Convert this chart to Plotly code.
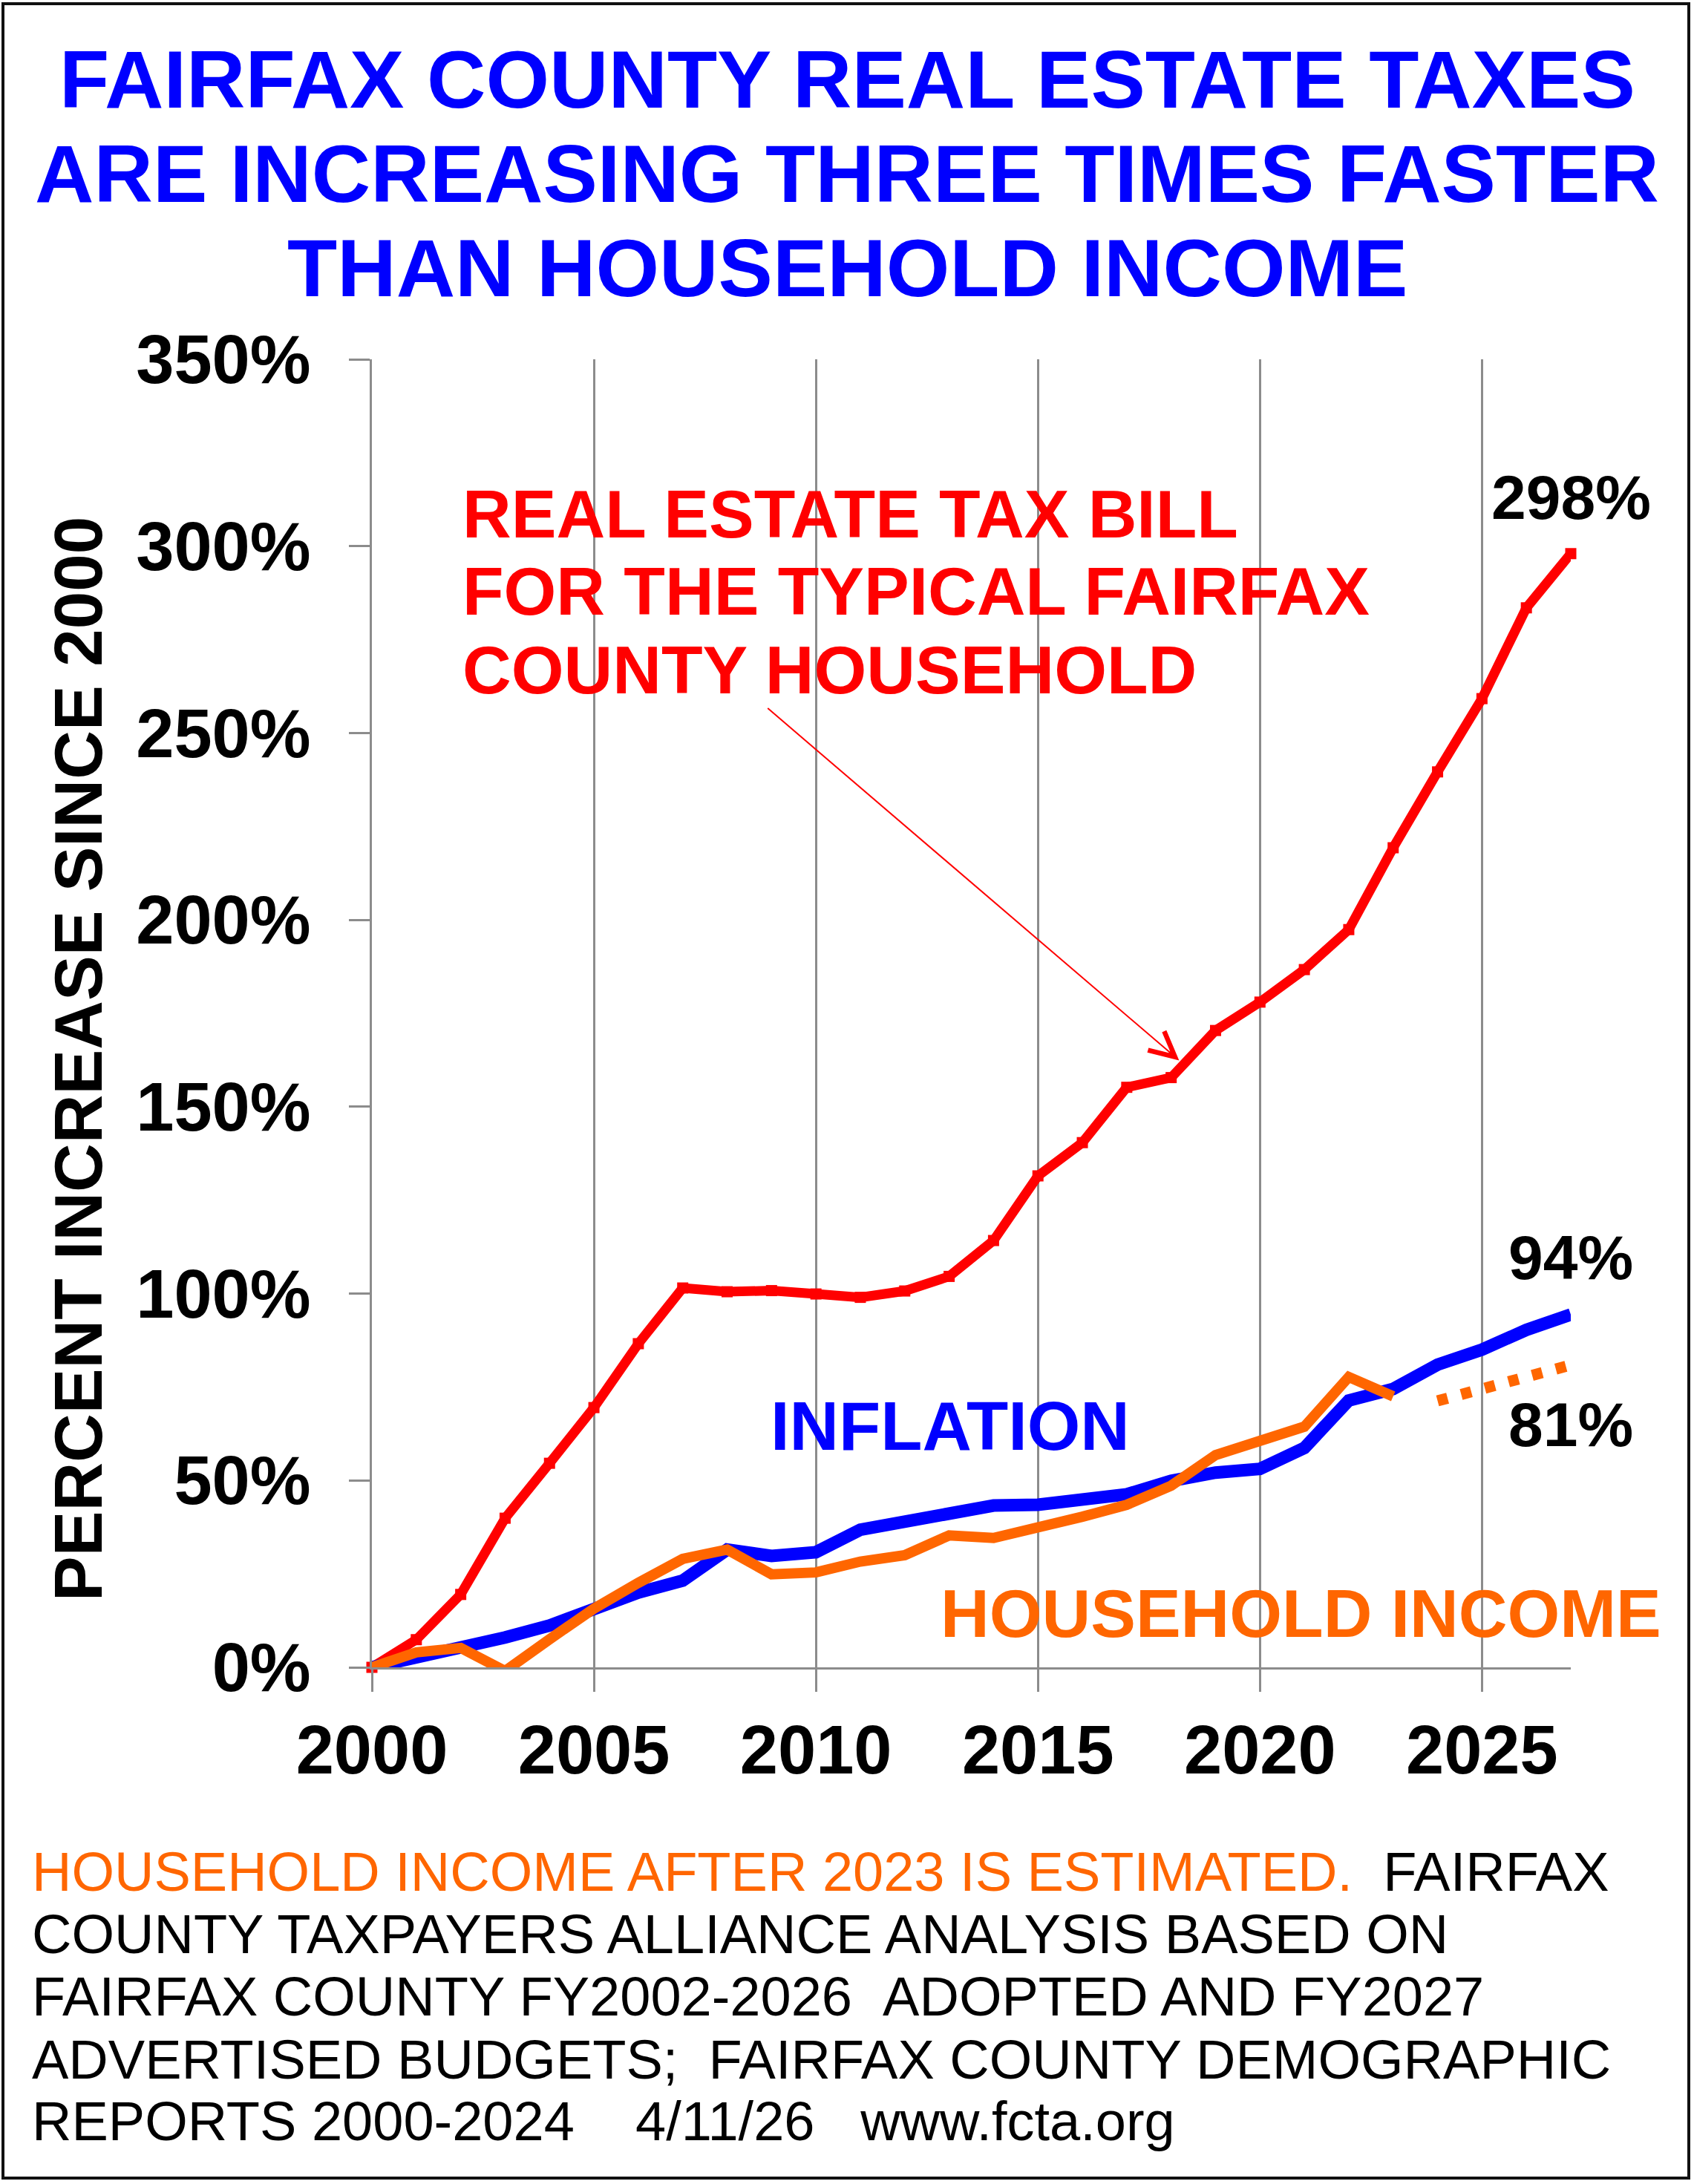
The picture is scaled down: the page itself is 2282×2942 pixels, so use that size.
import plotly.graph_objects as go

# ---------------- data ----------------
years = list(range(2000, 2028))
tax_bill = [0, 7.4, 19.5, 39.9, 54.6, 69.5, 86.6, 101.5, 100.5, 100.8, 99.9, 99.0,
            100.7, 104.6, 114.2, 131.5, 140.4, 155.2, 157.8, 170.4, 178.0, 186.7,
            197.4, 219.3, 239.6, 259.2, 283.5, 298.0]
inflation = [0, 2.4, 4.8, 8.0, 11.2, 15.9, 20.0, 23.2, 31.5, 29.8, 30.8, 36.8,
             38.8, 41.0, 43.3, 43.5, 45.1, 46.3, 49.9, 52.1, 53.1, 58.7,
             71.4, 74.5, 81.0, 85.0, 90.3, 94.4]
income_years = list(range(2000, 2024))
income = [0, 4.0, 5.2, -1.0, 7.5, 15.7, 22.6, 29.0, 31.5, 24.9, 25.4, 28.3,
          30.0, 35.3, 34.6, 37.1, 40.3, 43.5, 48.6, 56.8, 60.6, 64.4, 77.7, 72.5]
est_years = [2024, 2025, 2026, 2027]
income_est = [71.3, 74.5, 77.7, 80.9]

y_ticks = [0, 50, 100, 150, 200, 250, 300, 350]
y_tick_labels = [f"{v}%" for v in y_ticks]
x_ticks = [2000, 2005, 2010, 2015, 2020, 2025]

title_lines = ["FAIRFAX COUNTY REAL ESTATE TAXES",
               "ARE INCREASING THREE TIMES FASTER",
               "THAN HOUSEHOLD INCOME"]
tax_label_lines = ["REAL ESTATE TAX BILL",
                   "FOR THE TYPICAL FAIRFAX",
                   "COUNTY HOUSEHOLD"]
NB = "\u00a0"
footer_lines = [
    '<span style="color:#FF6600">HOUSEHOLD INCOME AFTER 2023 IS ESTIMATED.</span>' + NB * 2 + "FAIRFAX",
    "COUNTY TAXPAYERS ALLIANCE ANALYSIS BASED ON",
    "FAIRFAX COUNTY FY2002-2026" + NB * 2 + "ADOPTED AND FY2027",
    "ADVERTISED BUDGETS;" + NB * 2 + "FAIRFAX COUNTY DEMOGRAPHIC",
    "REPORTS 2000-2024" + NB * 4 + "4/11/26" + NB * 3 + "www.fcta.org",
]

# ---------------- layout geometry ----------------
W, H = 2282, 2942
L, R, T, B = 501, 2116, 484, 2246


def px(xp):
    return (xp - L) / (R - L)


def py(yp):
    return (B - yp) / (B - T)


FONT = "Arial, Liberation Sans, Helvetica, sans-serif"
BLUE = "#0000FF"
RED = "#FF0000"
ORANGE = "#FF6600"
GRID = "#8C8C8C"

fig = go.Figure()

fig.add_trace(go.Scatter(x=years, y=tax_bill, mode="lines+markers",
                         line=dict(color=RED, width=13),
                         marker=dict(symbol="square", size=15, color=RED),
                         cliponaxis=False, name="Real estate tax bill"))
fig.add_trace(go.Scatter(x=years, y=inflation, mode="lines",
                         line=dict(color=BLUE, width=17), name="Inflation"))
fig.add_trace(go.Scatter(x=income_years, y=income, mode="lines",
                         line=dict(color=ORANGE, width=14), name="Household income"))
fig.add_trace(go.Scatter(x=est_years, y=income_est, mode="lines",
                         line=dict(color=ORANGE, width=15, dash="14px,19px"),
                         name="Household income (estimated)"))

ann = []
# Title
for txt, yc in zip(title_lines, [106, 233, 360]):
    ann.append(dict(text=f"<b>{txt}</b>", x=px(W / 2), y=py(yc),
                    xref="paper", yref="paper", showarrow=False,
                    xanchor="center", yanchor="middle",
                    font=dict(family=FONT, size=110, color=BLUE)))
# Red label block
for txt, yc in zip(tax_label_lines, [692, 796, 902]):
    ann.append(dict(text=f"<b>{txt}</b>", x=px(621), y=py(yc),
                    xref="paper", yref="paper", showarrow=False,
                    xanchor="left", yanchor="middle",
                    font=dict(family=FONT, size=91, color=RED)))
# Arrow
ann.append(dict(text="", x=2018.18, y=162.4, xref="x", yref="y",
                ax=-555.7, ay=-475.6, axref="pixel", ayref="pixel",
                showarrow=True, arrowhead=5, arrowsize=3.3, arrowwidth=2,
                arrowcolor=RED))
# Series labels
ann.append(dict(text="<b>INFLATION</b>", x=px(1280), y=py(1921), xref="paper", yref="paper",
                showarrow=False, xanchor="center", yanchor="middle",
                font=dict(family=FONT, size=92, color=BLUE)))
ann.append(dict(text="<b>HOUSEHOLD INCOME</b>", x=px(1752), y=py(2173), xref="paper", yref="paper",
                showarrow=False, xanchor="center", yanchor="middle",
                font=dict(family=FONT, size=91, color=ORANGE)))
for txt, yc in [("298%", 670), ("94%", 1694), ("81%", 1919)]:
    ann.append(dict(text=f"<b>{txt}</b>", x=px(2116), y=py(yc), xref="paper", yref="paper",
                    showarrow=False, xanchor="center", yanchor="middle",
                    font=dict(family=FONT, size=84, color="black")))
# Y axis title
ann.append(dict(text="<b>PERCENT INCREASE SINCE 2000</b>", x=px(105), y=py(1427),
                xref="paper", yref="paper", showarrow=False, textangle=-90,
                xanchor="center", yanchor="middle",
                font=dict(family=FONT, size=91, color="black")))
# Footer
for txt, yc in zip(footer_lines, [2521, 2605, 2689, 2774, 2857]):
    ann.append(dict(text=txt, x=px(41), y=py(yc), xref="paper", yref="paper",
                    showarrow=False, xanchor="left", yanchor="middle", align="left",
                    font=dict(family=FONT, size=74, color="black")))

shapes = []
# white boxes behind text labels, hiding gridlines
for x0, x1, y0, y1 in [(600, 1900, 622, 976), (1020, 1540, 1850, 1971), (1250, 2114, 2105, 2237)]:
    shapes.append(dict(type="rect", xref="paper", yref="paper",
                       x0=px(x0), x1=px(x1), y0=py(y1), y1=py(y0),
                       fillcolor="white", line=dict(width=0), layer="between"))
# outer border
shapes.append(dict(type="rect", xref="paper", yref="paper",
                   x0=px(4), x1=px(2275), y0=py(2934), y1=py(5),
                   line=dict(color="#111111", width=4), fillcolor="rgba(0,0,0,0)", layer="above"))

fig.update_layout(
    width=W, height=H,
    margin=dict(l=L, r=W - R, t=T, b=H - B, pad=0),
    paper_bgcolor="white", plot_bgcolor="white",
    showlegend=False,
    annotations=ann, shapes=shapes,
    xaxis=dict(range=[2000, 2027], tickvals=x_ticks, ticktext=[str(v) for v in x_ticks],
               showgrid=True, gridcolor=GRID, gridwidth=2.5,
               showline=True, linecolor=GRID, linewidth=3, zeroline=False,
               ticks="outside", ticklen=30, tickwidth=2.5, tickcolor=GRID,
               ticklabelstandoff=0,
               tickfont=dict(family=FONT, size=92, color="black", weight="bold")),
    yaxis=dict(range=[0, 350], tickvals=y_ticks, ticktext=y_tick_labels,
               showgrid=False, showline=True, linecolor=GRID, linewidth=3, zeroline=False,
               ticks="outside", ticklen=28, tickwidth=2.5, tickcolor=GRID,
               ticklabelstandoff=33,
               tickfont=dict(family=FONT, size=92, color="black", weight="bold")),
)

fig.write_html("out.html", config={"displayModeBar": False})
